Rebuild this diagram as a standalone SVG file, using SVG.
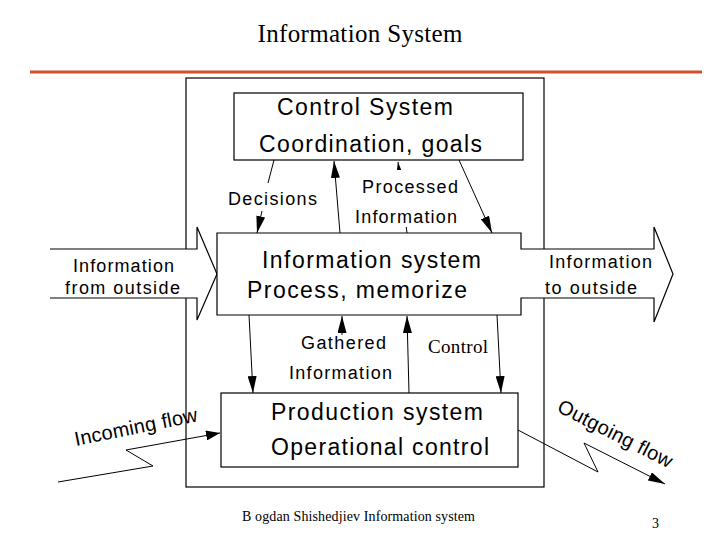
<svg xmlns="http://www.w3.org/2000/svg" width="720" height="540" viewBox="0 0 720 540">
<style>
.box{fill:#fff;stroke:#000;stroke-width:1.2}
.ln{fill:none;stroke:#000;stroke-width:1}
.sans{font-family:"Liberation Sans",Arial,sans-serif;fill:#000}
.serif{font-family:"Liberation Serif","Times New Roman",serif;fill:#000}
.big{font-size:23px}
.mid{font-size:18px}
</style>
<defs>
<marker id="ah" viewBox="0 0 17 9" refX="17" refY="4.5" markerWidth="17" markerHeight="9" markerUnits="userSpaceOnUse" orient="auto">
<path d="M0,0 L17,4.5 L0,9 Z" fill="#000"/>
</marker>
<marker id="ahs" viewBox="0 0 14 10" refX="14" refY="5" markerWidth="14" markerHeight="10" markerUnits="userSpaceOnUse" orient="auto">
<path d="M0,0 L14,5 L0,10 Z" fill="#000"/>
</marker>
</defs>
<rect width="720" height="540" fill="#fff"/>
<g id="title">
<text class="serif" x="360" y="42" font-size="25" text-anchor="middle" textLength="205" lengthAdjust="spacing">Information System</text>
<line x1="30" y1="72" x2="702" y2="72" stroke="#d4502a" stroke-width="3"/>
</g>
<g id="frame">
<rect x="186" y="78" width="358" height="409" class="box" fill="none"/>
</g>
<g id="connectors">
<line class="ln" x1="274" y1="160" x2="268" y2="183"/>
<line class="ln" x1="262" y1="211" x2="257" y2="233" marker-end="url(#ah)"/>
<line class="ln" x1="340" y1="233" x2="334" y2="161" marker-end="url(#ah)"/>
<line class="ln" x1="407" y1="233" x2="398" y2="162" marker-end="url(#ah)"/>
<line class="ln" x1="459" y1="160" x2="492" y2="233" marker-end="url(#ah)"/>
<line class="ln" x1="249" y1="315" x2="253" y2="393" marker-end="url(#ah)"/>
<line class="ln" x1="342" y1="335" x2="342" y2="316" marker-end="url(#ah)"/>
<line class="ln" x1="409" y1="393" x2="407" y2="316" marker-end="url(#ah)"/>
<line class="ln" x1="497" y1="315" x2="501" y2="393" marker-end="url(#ah)"/>
<polyline class="ln" points="58,482 153,466 126,450 220,433" marker-end="url(#ahs)"/>
<polyline class="ln" points="518,430 598,472 584,443 665,484" marker-end="url(#ah)"/>
</g>
<g id="control-system">
<rect x="234" y="93" width="289" height="67" class="box"/>
<text class="sans big" x="277" y="115" textLength="176" lengthAdjust="spacing">Control System</text>
<text class="sans big" x="259" y="152" textLength="223" lengthAdjust="spacing">Coordination, goals</text>
</g>
<g id="info-from-outside">
<path class="box" d="M50,249 H197 V227 L217,274 L197,320 V298 H50"/>
<text class="sans mid" x="73" y="272" textLength="101" lengthAdjust="spacing">Information</text>
<text class="sans mid" x="65" y="294" textLength="115" lengthAdjust="spacing">from outside</text>
</g>
<g id="information-system">
<path class="box" d="M217,233 H521 V249 H654 V227 L673,274 L654,322 V298 H521 V315 H217 Z"/>
<text class="sans big" x="262" y="268" textLength="219" lengthAdjust="spacing">Information system</text>
<text class="sans big" x="247" y="298" textLength="220" lengthAdjust="spacing">Process, memorize</text>
<text class="sans mid" x="549" y="268" textLength="103" lengthAdjust="spacing">Information</text>
<text class="sans mid" x="545" y="294" textLength="92" lengthAdjust="spacing">to outside</text>
</g>
<g id="production-system">
<rect x="221" y="393" width="297" height="74" class="box"/>
<text class="sans big" x="271" y="420" textLength="212" lengthAdjust="spacing">Production system</text>
<text class="sans big" x="271" y="455" textLength="218" lengthAdjust="spacing">Operational control</text>
</g>
<g id="labels">
<text class="sans mid" x="228" y="205" textLength="89" lengthAdjust="spacing">Decisions</text>
<rect x="352" y="170" width="108" height="57" fill="#fff"/>
<text class="sans mid" x="362" y="193" textLength="96" lengthAdjust="spacing">Processed</text>
<text class="sans mid" x="355" y="223" textLength="102" lengthAdjust="spacing">Information</text>
<text class="sans mid" x="301" y="349" textLength="85" lengthAdjust="spacing">Gathered</text>
<text class="sans mid" x="289" y="379" textLength="103" lengthAdjust="spacing">Information</text>
<text class="serif" x="428" y="353" font-size="19" textLength="60" lengthAdjust="spacing">Control</text>
<text class="sans" font-size="20" transform="translate(76,446) rotate(-11.5)" textLength="125" lengthAdjust="spacing">Incoming flow</text>
<text class="sans" font-size="20" transform="translate(556,411) rotate(27)" textLength="126" lengthAdjust="spacing">Outgoing flow</text>
</g>
<g id="footer">
<text class="serif" x="242" y="521" font-size="14" textLength="233" lengthAdjust="spacing">B ogdan Shishedjiev Information system</text>
<text class="serif" x="652" y="528" font-size="14">3</text>
</g>
</svg>
